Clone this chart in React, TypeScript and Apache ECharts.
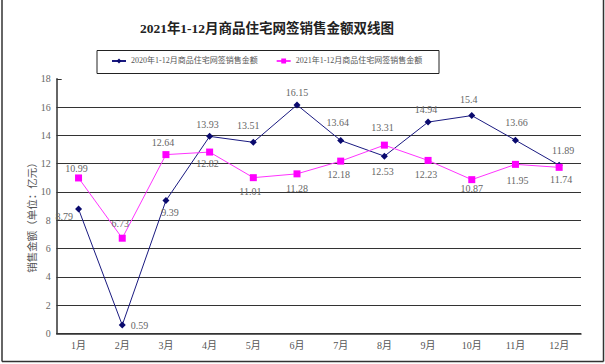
import React, { useEffect, useRef } from "react";
import * as echarts from "echarts";

const months = ["1月", "2月", "3月", "4月", "5月", "6月", "7月", "8月", "9月", "10月", "11月", "12月"];
const sales2020 = [8.79, 0.59, 9.39, 13.93, 13.51, 16.15, 13.64, 12.53, 14.94, 15.4, 13.66, 11.89];
const sales2021 = [10.99, 6.73, 12.64, 12.82, 11.01, 11.28, 12.18, 13.31, 12.23, 10.87, 11.95, 11.74];
const seriesNames = ["2020年1-12月商品住宅网签销售金额", "2021年1-12月商品住宅网签销售金额"];
const titleText = "2021年1-12月商品住宅网签销售金额双线图";
const yAxisName = "销售金额（单位：亿元）";

// label placement per point: [position, distance, offset]
const place2020: [string, number, number[]][] = [
  ["left", 2, [0, 7]],
  ["right", 5, [0, 0]],
  ["bottom", 3, [4, 0]],
  ["top", 3, [-2, 0]],
  ["top", 8, [-5, 0]],
  ["top", 4, [0, 0]],
  ["top", 9, [-3, 0]],
  ["bottom", 7, [-2, 0]],
  ["top", 4, [-2, 0]],
  ["top", 8, [-3, 0]],
  ["top", 9, [1, 0]],
  ["top", 6, [4, 0]],
];
const place2021: [string, number, number[]][] = [
  ["top", 1, [-2, 0]],
  ["top", 6, [-2, 0]],
  ["top", 4, [-3, 0]],
  ["bottom", 3, [-2, 0]],
  ["bottom", 5, [-3, 0]],
  ["bottom", 6, [0, 0]],
  ["bottom", 5, [-2, 0]],
  ["top", 9, [-2, 0]],
  ["bottom", 6, [-2, 0]],
  ["bottom", 0, [0, 0]],
  ["bottom", 8, [2, 0]],
  ["bottom", 4, [2, 0]],
];

const SERIF = "'Liberation Serif', 'Noto Sans CJK SC', serif";

export default function App() {
  const ref = useRef<HTMLDivElement>(null);
  useEffect(() => {
    if (!ref.current) return;
    const chart = echarts.init(ref.current, null, { renderer: "svg" });
    const labelStyle = { fontSize: 10, color: "#666", fontFamily: SERIF };
    const mk = (vals: number[], place: [string, number, number[]][]) =>
      vals.map((v, i) => ({
        value: v,
        label: { show: true, position: place[i][0], distance: place[i][1], offset: place[i][2], ...labelStyle },
      }));
    chart.setOption({
      animation: false,
      backgroundColor: "#fff",
      title: {
        text: titleText,
        left: 262,
        textAlign: "center",
        top: 17,
        textStyle: { fontSize: 13.5, fontWeight: "bold", color: "#222", fontFamily: SERIF },
      },
      legend: {
        left: 111,
        top: 57,
        itemWidth: 14,
        itemHeight: 6,
        itemGap: 18,
        padding: 0,
        textStyle: { fontSize: 8, color: "#555", fontFamily: SERIF },
        data: seriesNames,
      },
      grid: { left: 56.7, right: 24, top: 78.8, bottom: 30.6 },
      xAxis: {
        type: "category",
        data: months,
        boundaryGap: true,
        axisLine: { lineStyle: { color: "#333", width: 1.5 } },
        axisTick: { inside: true, length: 4, lineStyle: { color: "#333" } },
        axisLabel: { fontSize: 10, color: "#555", margin: 7, fontFamily: SERIF },
      },
      yAxis: {
        type: "value",
        min: 0,
        max: 18,
        interval: 2,
        axisLine: { show: true, lineStyle: { color: "#333", width: 1.5 } },
        axisTick: { show: true, inside: true, length: 5, lineStyle: { color: "#333" } },
        axisLabel: { fontSize: 10, color: "#666", margin: 6, fontFamily: SERIF },
        splitLine: {
          show: true,
          lineStyle: {
            color: ["#333", "#333", "#333", "#333", "#333", "#333", "#333", "#333", "#333", "rgba(0,0,0,0)"],
            width: 1,
          },
        },
      },
      graphic: [
        { type: "line", shape: { x1: 2, y1: 0, x2: 2, y2: 361.5 }, style: { stroke: "#333", lineWidth: 1.5 } },
        { type: "line", shape: { x1: 603.5, y1: 0, x2: 603.5, y2: 361.5 }, style: { stroke: "#333", lineWidth: 1.5 } },
        { type: "line", shape: { x1: 2, y1: 361.5, x2: 603.5, y2: 361.5 }, style: { stroke: "#333", lineWidth: 1.5 } },
        { type: "rect", shape: { x: 97, y: 50.5, width: 342, height: 23 }, style: { fill: "none", stroke: "#222", lineWidth: 1 } },
        {
          type: "text",
          x: 32,
          y: 215,
          rotation: Math.PI / 2,
          style: { text: yAxisName, fontSize: 10.5, fill: "#555", align: "center", verticalAlign: "middle", fontFamily: SERIF },
        },
      ],
      series: [
        {
          name: seriesNames[0],
          type: "line",
          data: mk(sales2020, place2020),
          symbol: "diamond",
          symbolSize: 7,
          lineStyle: { color: "#1a1a80", width: 1 },
          itemStyle: { color: "#0a0a6e" },
        },
        {
          name: seriesNames[1],
          type: "line",
          data: mk(sales2021, place2021),
          symbol: "rect",
          symbolSize: 7,
          lineStyle: { color: "#ff33ff", width: 1 },
          itemStyle: { color: "#ff00ff" },
        },
      ],
    });
    return () => chart.dispose();
  }, []);
  return <div ref={ref} style={{ position: "fixed", left: 0, top: 0, width: 605, height: 364 }} />;
}
